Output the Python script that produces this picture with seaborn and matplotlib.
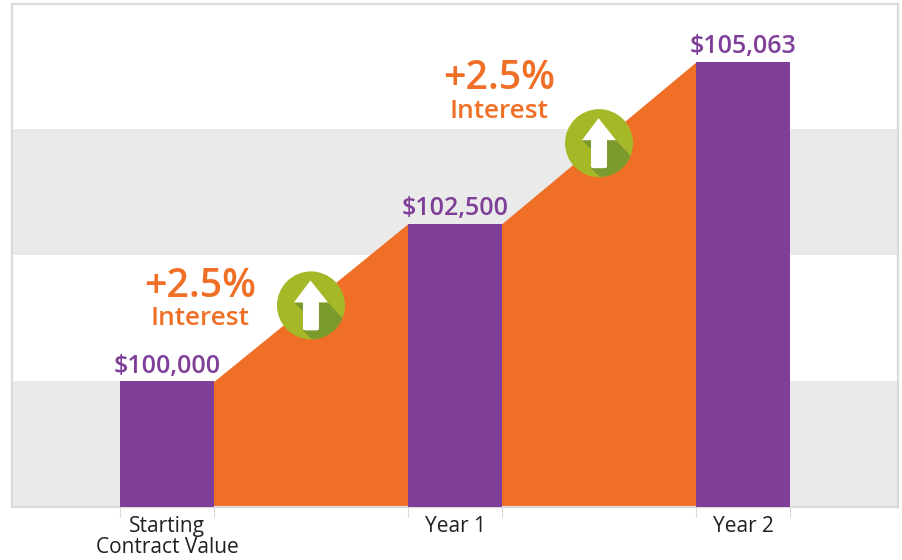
import numpy as np
import pandas as pd
import matplotlib
matplotlib.use('Agg')
import matplotlib.pyplot as plt
from matplotlib.patches import Circle, Polygon
from matplotlib.transforms import IdentityTransform
import seaborn as sns

categories = ['Starting\nContract Value', 'Year 1', 'Year 2']
values = [100000, 102500, 105063]
value_labels = ['$100,000', '$102,500', '$105,063']
band_edges = [98000, 100000, 102000, 104000, 106000]
interest_big = '+2.5%'
interest_small = 'Interest'

PURPLE = '#7F3F98'
ORANGE = '#F06F26'
BAND = '#EAEAEA'
FRAME = '#D9DADA'
GREEN = '#A5B827'
DARK_GREEN = '#7B9A2E'

sns.set_style('white')
plt.rcParams['font.family'] = ['Open Sans', 'DejaVu Sans']

W, H = 902, 560
fig = plt.figure(figsize=(W / 100, H / 100), dpi=100)
ax = fig.add_axes([12 / W, (H - 507) / H, (898 - 12) / W, (507 - 4) / H])

df = pd.DataFrame({'category': categories, 'value': values})
sns.barplot(data=df, x='category', y='value', color=PURPLE, saturation=1,
            width=0.326, linewidth=0, ax=ax, zorder=3)
ax.set_ylim(98008, 105979)
ax.set_xlim(-0.538, 2.538)
ax.set_xlabel('')
ax.set_ylabel('')

# grey stripes, every other band
for i in range(0, len(band_edges) - 1, 2):
    ax.axhspan(band_edges[i], band_edges[i + 1], color=BAND, lw=0, zorder=0)

bars = [b for b in ax.patches if b.get_width() < 1]
lefts = [b.get_x() for b in bars]
rights = [b.get_x() + b.get_width() for b in bars]

# orange wedge between the bars, runs on under them so no seam shows
for i in range(len(bars) - 1):
    ax.fill_between([i, rights[i], lefts[i + 1], i + 1],
                    [values[i], values[i], values[i + 1], values[i + 1]],
                    band_edges[0], color=ORANGE, lw=0, zorder=2)

ax.bar_label(ax.containers[0], labels=value_labels, padding=2, color=PURPLE,
             fontsize=18, fontweight=600, zorder=5)


def draw_icon(cx, cy):
    # pixel coordinates, y down from the top of the picture
    def px(x, y):
        return (cx + x, H - (cy + y))
    t = IdentityTransform()
    circle = Circle(px(0, 0), 34, transform=t, color=GREEN, lw=0, zorder=6)
    fig.add_artist(circle)
    shadow = Polygon([px(-17, -3), px(-8, 6), px(-8, 25), px(30, 63), px(55, 38), px(17, -3)],
                     closed=True, transform=t, color=DARK_GREEN, lw=0, zorder=7)
    fig.add_artist(shadow)
    shadow.set_clip_path(circle)
    arrow = Polygon([px(-0.5, -25), px(17, -3), px(8, -3), px(8, 24), px(6, 25), px(-6, 25),
                     px(-8, 24), px(-8, -3), px(-17, -3)],
                    closed=True, transform=t, color='white', lw=0, zorder=8)
    fig.add_artist(arrow)


# icons sit on the middle of each slope
icon_drop = [3, 0.5]
for i in range(len(bars) - 1):
    mx = (rights[i] + lefts[i + 1]) / 2
    my = (values[i] + values[i + 1]) / 2
    dx, dy = ax.transData.transform((mx, my))
    draw_icon(dx, H - dy + icon_drop[i])

ax.text(0.115, 101493, interest_big, color=ORANGE, fontsize=28.3,
        fontweight=600, ha='center', va='center', zorder=5)
ax.text(0.115, 100990, interest_small, color=ORANGE, fontsize=18.9,
        fontweight=600, ha='center', va='center', zorder=5)
ax.text(1.153, 104790, interest_big, color=ORANGE, fontsize=28.3,
        fontweight=600, ha='center', va='center', zorder=5)
ax.text(1.153, 104275, interest_small, color=ORANGE, fontsize=18.9,
        fontweight=600, ha='center', va='center', zorder=5)

for s in ax.spines.values():
    s.set_visible(True)
    s.set_color(FRAME)
    s.set_linewidth(1.6)

ax.set_yticks([])
ax.set_xticks(range(len(categories)))
ax.set_xticklabels(categories, fontsize=15, color='#231F20', linespacing=0.98)
ax.set_xticks(lefts + rights, minor=True)
ax.tick_params(axis='x', which='major', length=0, pad=6.5)
ax.tick_params(axis='x', which='minor', length=7.5, width=0.8, color=FRAME, bottom=True)

fig.savefig('out.png', dpi=100)
